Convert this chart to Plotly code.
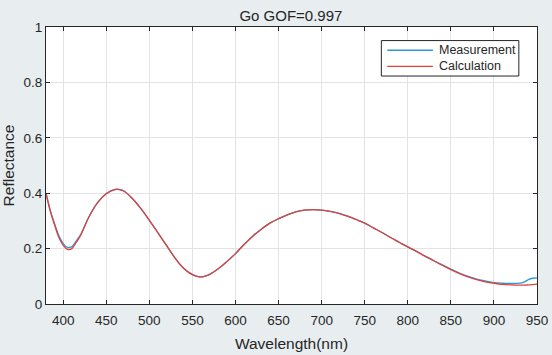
import plotly.graph_objects as go

wavelength = [380, 385, 390, 395, 400, 405, 410, 415, 420, 430, 440, 450, 460, 465, 470,
              480, 490, 500, 510, 520, 530, 540, 550, 558, 565, 570, 580, 590, 600, 610,
              620, 630, 640, 650, 660, 670, 680, 690, 700, 710, 720, 730, 740, 750, 760,
              770, 780, 790, 800, 810, 820, 830, 840, 850, 860, 870, 880, 890, 900, 910,
              920, 930, 935, 940, 945, 950]

calculation = [0.400, 0.335, 0.285, 0.240, 0.212, 0.197, 0.200, 0.222, 0.247, 0.315, 0.366,
               0.398, 0.413, 0.413, 0.408, 0.382, 0.345, 0.302, 0.257, 0.211, 0.165, 0.128,
               0.106, 0.098, 0.101, 0.107, 0.127, 0.153, 0.182, 0.215, 0.245, 0.270, 0.292,
               0.308, 0.322, 0.333, 0.339, 0.341, 0.339, 0.334, 0.327, 0.317, 0.305, 0.292,
               0.275, 0.258, 0.240, 0.223, 0.206, 0.190, 0.173, 0.156, 0.140, 0.124, 0.110,
               0.098, 0.088, 0.080, 0.075, 0.071, 0.069, 0.068, 0.068, 0.069, 0.070, 0.072]

measurement = [0.400, 0.338, 0.290, 0.246, 0.218, 0.204, 0.207, 0.227, 0.250, 0.316, 0.367,
               0.399, 0.414, 0.414, 0.409, 0.382, 0.345, 0.302, 0.257, 0.211, 0.165, 0.128,
               0.106, 0.098, 0.101, 0.107, 0.127, 0.153, 0.182, 0.215, 0.245, 0.270, 0.292,
               0.308, 0.322, 0.333, 0.339, 0.341, 0.339, 0.334, 0.327, 0.317, 0.305, 0.292,
               0.275, 0.258, 0.240, 0.223, 0.206, 0.190, 0.173, 0.157, 0.141, 0.126, 0.112,
               0.100, 0.090, 0.083, 0.077, 0.075, 0.074, 0.075, 0.079, 0.088, 0.093, 0.094]

series_names = ["Measurement", "Calculation"]
series_colors = ["#2c9ad6", "#e0403a"]

x_ticks = [400, 450, 500, 550, 600, 650, 700, 750, 800, 850, 900, 950]
y_ticks = [0, 0.2, 0.4, 0.6, 0.8, 1]
y_tick_labels = ["0", "0.2", "0.4", "0.6", "0.8", "1"]

font = "Liberation Sans, Arial, sans-serif"
ink = "#262626"

fig = go.Figure()
for name, ys, color in zip(series_names, [measurement, calculation], series_colors):
    fig.add_trace(go.Scatter(x=wavelength, y=ys, mode="lines", name=name,
                             line=dict(color=color, width=1.3, shape="spline"),
                             showlegend=False))

axis_common = dict(showgrid=True, gridcolor="#e3e3e3", gridwidth=1, automargin=False,
                   showline=True, linecolor=ink, linewidth=1, mirror="ticks",
                   ticks="inside", ticklen=4, tickcolor=ink, zeroline=False,
                   tickfont=dict(family=font, size=13.5, color=ink))

# Boxed legend in the upper right of the plotting area (paper coordinates)
legend_box = dict(x0=0.683, x1=0.963, y0=0.823, y1=0.951)
row_y = [0.916, 0.858]
fig.add_shape(type="rect", xref="paper", yref="paper", **legend_box,
              line=dict(color=ink, width=1), fillcolor="#ffffff", layer="above")
for name, color, ry in zip(series_names, series_colors, row_y):
    fig.add_shape(type="line", xref="paper", yref="paper", x0=0.695, x1=0.788,
                  y0=ry, y1=ry, line=dict(color=color, width=1.3), layer="above")
    fig.add_annotation(text=name, xref="paper", yref="paper", x=0.797, y=ry,
                       xanchor="left", yanchor="middle", showarrow=False,
                       font=dict(family=font, size=12.5, color=ink))

fig.update_layout(
    width=552, height=355,
    margin=dict(l=46, r=15, t=27, b=51),
    paper_bgcolor="#e8eef0", plot_bgcolor="#ffffff",
    title=dict(text="Go GOF=0.997", x=0.527, xanchor="center", y=0.955, yanchor="middle",
               font=dict(family=font, size=15, color=ink)),
    xaxis=dict(range=[380, 950], tickvals=x_ticks, ticklabelstandoff=4,
               title=dict(text="Wavelength(nm)", standoff=10,
                          font=dict(family=font, size=15.5, color=ink)),
               **axis_common),
    yaxis=dict(range=[0, 1], tickvals=y_ticks, ticktext=y_tick_labels,
               title=dict(text="Reflectance", standoff=6,
                          font=dict(family=font, size=15.5, color=ink)),
               **axis_common),
    showlegend=False,
)

fig.write_html(
    "out.html",
    config={"displayModeBar": False},
    post_script="document.body.style.margin='0';document.body.style.background='#e8eef0';",
)
